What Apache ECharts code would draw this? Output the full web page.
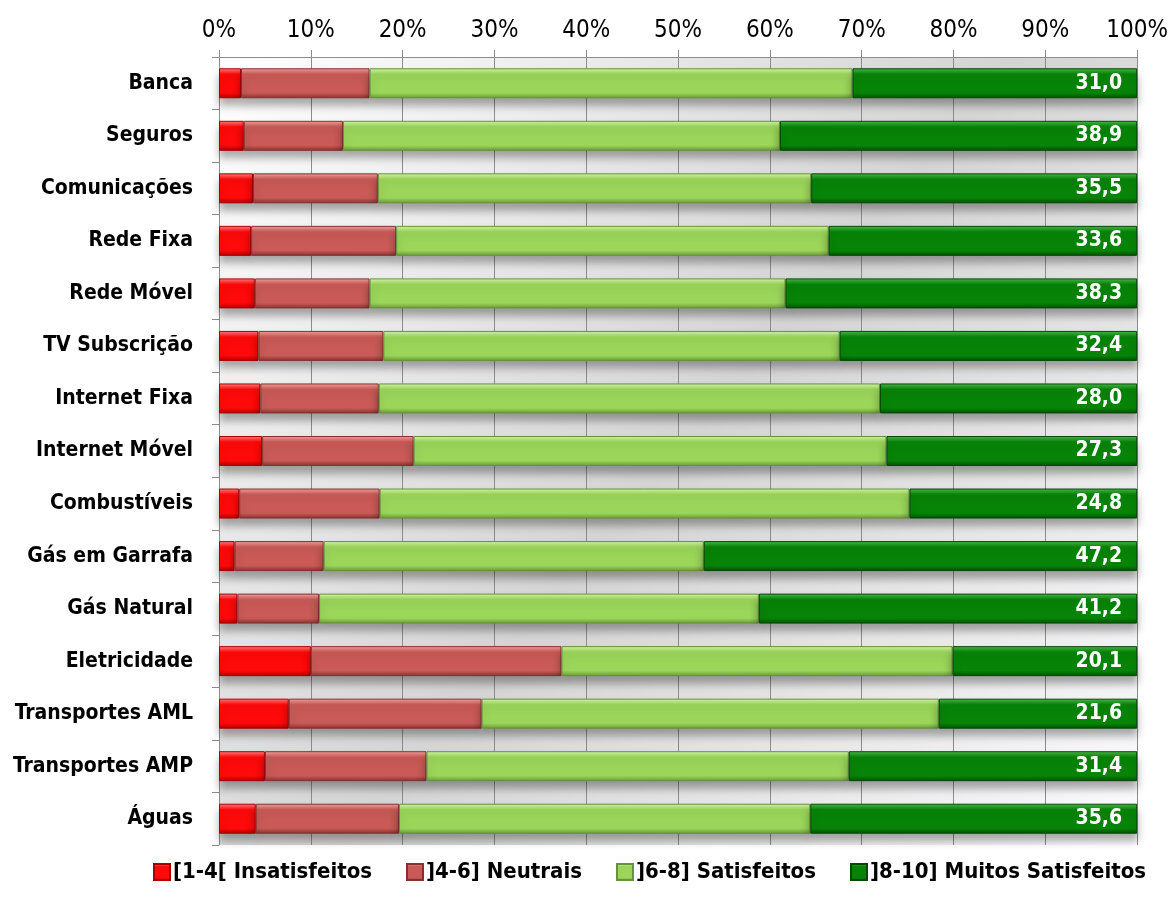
<!DOCTYPE html>
<html>
<head>
<meta charset="utf-8">
<script src="https://cdn.jsdelivr.net/npm/echarts@6/dist/echarts.min.js"></script>
<style>
  html, body { margin: 0; padding: 0; background: #ffffff; }
  #chart { width: 1171px; height: 916px; }
</style>
</head>
<body>
<div id="chart"></div>
<script>
// Sectors, top to bottom
const categories = [
  'Banca', 'Seguros', 'Comunicações', 'Rede Fixa', 'Rede Móvel',
  'TV Subscrição', 'Internet Fixa', 'Internet Móvel', 'Combustíveis',
  'Gás em Garrafa', 'Gás Natural', 'Eletricidade', 'Transportes AML',
  'Transportes AMP', 'Águas'
];

// Share of respondents (%) per satisfaction band
const insatisfeitos = [2.4, 2.7, 3.7, 3.5, 3.9, 4.3, 4.5, 4.7, 2.2, 1.7, 2.0, 10.0, 7.6, 5.0, 4.0];
const neutrais      = [14.0, 10.8, 13.6, 15.8, 12.5, 13.6, 12.9, 16.5, 15.3, 9.7, 8.9, 27.3, 21.0, 17.6, 15.6];
const satisfeitos   = [52.6, 47.6, 47.2, 47.1, 45.3, 49.7, 54.6, 51.5, 57.7, 41.4, 47.9, 42.6, 49.8, 46.0, 44.8];
const muitoSatisf   = [31.0, 38.9, 35.5, 33.6, 38.3, 32.4, 28.0, 27.3, 24.8, 47.2, 41.2, 20.1, 21.6, 31.4, 35.6];

const seriesNames = ['[1-4[ Insatisfeitos', ']4-6] Neutrais', ']6-8] Satisfeitos', ']8-10] Muitos Satisfeitos'];

const NARROW = '"Liberation Sans Narrow", "Arial Narrow", "DejaVu Sans Condensed", "Liberation Sans", Arial, sans-serif';

// Bevel-like vertical shading for a bar colour
function bevel(light, mid, dark) {
  return new echarts.graphic.LinearGradient(0, 0, 0, 1, [
    { offset: 0, color: light },
    { offset: 0.2, color: mid },
    { offset: 0.82, color: mid },
    { offset: 1, color: dark }
  ]);
}

const fills = [
  bevel('#ff8080', '#ff0a0a', '#b00000'),
  bevel('#f2a09d', '#c95a57', '#873230'),
  bevel('#d2f5a8', '#9bd65a', '#6a9838'),
  bevel('#4cb84c', '#078407', '#034f03')
];
const borders = ['#a80000', '#843130', '#65923a', '#034a03'];

const valuesBySeries = [insatisfeitos, neutrais, satisfeitos, muitoSatisf];

const series = valuesBySeries.map((vals, i) => ({
  name: seriesNames[i],
  type: 'bar',
  stack: 'total',
  barWidth: 30,
  data: vals,
  itemStyle: {
    color: fills[i],
    borderColor: borders[i],
    borderWidth: 1,
    shadowColor: 'rgba(0,0,0,0.32)',
    shadowBlur: 8,
    shadowOffsetY: 7
  },
  label: i === 3 ? {
    show: true,
    position: 'insideRight',
    distance: 15,
    color: '#ffffff',
    fontFamily: NARROW,
    fontWeight: 'bold',
    fontSize: 21,
    formatter: p => p.value.toFixed(1).replace('.', ',')
  } : { show: false }
}));

const chart = echarts.init(document.getElementById('chart'), null, { renderer: 'canvas' });

chart.setOption({
  animation: false,
  backgroundColor: '#ffffff',
  grid: {
    left: 219,
    right: 31,
    top: 57,
    bottom: 71,
    show: true,
    borderWidth: 0,
    backgroundColor: new echarts.graphic.LinearGradient(0, 0, 1, 1, [
      { offset: 0, color: '#ffffff' },
      { offset: 0.5, color: '#d4d4d4' },
      { offset: 1, color: '#fbfbfd' }
    ])
  },
  legend: {
    top: 856,
    left: 148,
    width: 1020,
    itemWidth: 16,
    itemHeight: 16,
    itemGap: 34,
    icon: 'rect',
    textStyle: {
      fontFamily: NARROW,
      fontWeight: 'bold',
      fontSize: 22,
      color: '#000000',
      padding: [0, 0, 0, -2]
    },
    data: seriesNames
  },
  xAxis: {
    type: 'value',
    position: 'top',
    min: 0,
    max: 100,
    interval: 10,
    axisLine: { show: true, lineStyle: { color: '#8c8c8c', width: 1 } },
    axisTick: { show: true, length: 7, lineStyle: { color: '#8c8c8c' } },
    splitLine: { show: true, lineStyle: { color: '#8c8c8c', width: 1 } },
    axisLabel: {
      margin: 14,
      fontFamily: NARROW,
      fontSize: 24,
      color: '#000000',
      formatter: v => v + '%'
    }
  },
  yAxis: {
    type: 'category',
    inverse: true,
    data: categories,
    axisLine: { show: true, lineStyle: { color: '#8c8c8c', width: 1 } },
    axisTick: { show: true, length: 7, lineStyle: { color: '#8c8c8c' } },
    axisLabel: {
      margin: 26,
      fontFamily: NARROW,
      fontWeight: 'bold',
      fontSize: 21,
      color: '#000000'
    }
  },
  series: series
});
</script>
</body>
</html>
